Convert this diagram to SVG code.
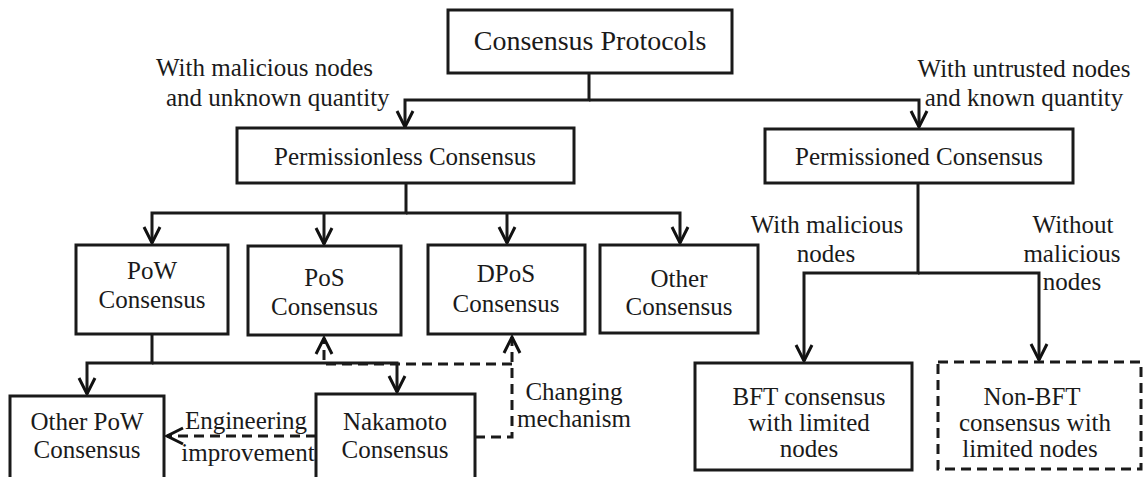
<svg xmlns="http://www.w3.org/2000/svg" width="1143" height="477" viewBox="0 0 1143 477">
<defs>
<marker id="arr" viewBox="-18 -10 20 20" refX="0" refY="0" markerWidth="20" markerHeight="20" markerUnits="userSpaceOnUse" orient="auto" overflow="visible">
<path d="M -16 -8 L 0 0 L -16 8" fill="none" stroke="#111" stroke-width="3" stroke-linejoin="miter"/>
</marker>
</defs>
<style>
text{font-family:"Liberation Serif","Times New Roman",serif;font-size:25px;fill:#1a1a1a;}
.c{text-anchor:middle;}
.box{fill:#fff;stroke:#1a1a1a;stroke-width:3;}
.dbox{fill:#fff;stroke:#1a1a1a;stroke-width:3;stroke-dasharray:10 6;}
.ln{fill:none;stroke:#1a1a1a;stroke-width:3;}
.dl{fill:none;stroke:#1a1a1a;stroke-width:3;stroke-dasharray:10 6;}
</style>
<rect width="1143" height="477" fill="#fff"/>
<g id="connectors">
<path class="ln" d="M589 73 V100 H405 V127" marker-end="url(#arr)"/>
<path class="ln" d="M589 100 H919 V127" marker-end="url(#arr)"/>
<path class="ln" d="M406 183 V213 H152 V243" marker-end="url(#arr)"/>
<path class="ln" d="M406 213 H680 V243" marker-end="url(#arr)"/>
<path class="ln" d="M324 213 V244" marker-end="url(#arr)"/>
<path class="ln" d="M507 213 V243" marker-end="url(#arr)"/>
<path class="ln" d="M152 334 V363 H87 V394" marker-end="url(#arr)"/>
<path class="ln" d="M152 363 H397 V392" marker-end="url(#arr)"/>
<path class="ln" d="M918 183 V273 H804 V361" marker-end="url(#arr)"/>
<path class="ln" d="M918 273 H1039 V360" marker-end="url(#arr)"/>
<path class="dl" d="M316 436 H167" marker-end="url(#arr)"/>
<path class="dl" d="M475 437 H512 V337" marker-end="url(#arr)"/>
<path class="dl" d="M512 364 H324 V338" marker-end="url(#arr)"/>
</g>
<g id="labels">
<text x="156" y="76">With malicious nodes</text>
<text x="166" y="106">and unknown quantity</text>
<text class="c" x="1024" y="77">With untrusted nodes</text>
<text class="c" x="1024" y="106">and known quantity</text>
<text class="c" x="827" y="233">With malicious</text>
<text class="c" x="826" y="262">nodes</text>
<text class="c" x="1073" y="233">Without</text>
<text class="c" x="1072" y="262">malicious</text>
<text class="c" x="1072" y="290">nodes</text>
<text class="c" x="246" y="429">Engineering</text>
<text class="c" x="248" y="461">improvement</text>
<text class="c" x="574" y="400">Changing</text>
<text class="c" x="574" y="427">mechanism</text>
</g>
<g id="protocols">
<rect class="box" x="448" y="10" width="284" height="63"/>
<text class="c" x="590" y="50" style="font-size:28px">Consensus Protocols</text>
</g>
<g id="permissionless">
<rect class="box" x="237" y="128" width="337" height="55"/>
<text class="c" x="405" y="165">Permissionless Consensus</text>
</g>
<g id="permissioned">
<rect class="box" x="765" y="129" width="308" height="54"/>
<text class="c" x="919" y="165">Permissioned Consensus</text>
</g>
<g id="pow">
<rect class="box" x="76" y="245" width="152" height="89"/>
<text class="c" x="152" y="279">PoW</text>
<text class="c" x="152" y="308">Consensus</text>
</g>
<g id="pos">
<rect class="box" x="248" y="246" width="153" height="89"/>
<text class="c" x="324.5" y="286">PoS</text>
<text class="c" x="324.5" y="315">Consensus</text>
</g>
<g id="dpos">
<rect class="box" x="428" y="245" width="157" height="89"/>
<text class="c" x="506" y="282">DPoS</text>
<text class="c" x="506" y="312">Consensus</text>
</g>
<g id="other">
<rect class="box" x="600" y="245" width="158" height="88"/>
<text class="c" x="679" y="287">Other</text>
<text class="c" x="679" y="315">Consensus</text>
</g>
<g id="otherpow">
<rect class="box" x="10" y="396" width="154" height="92"/>
<text class="c" x="87" y="430">Other PoW</text>
<text class="c" x="87" y="458">Consensus</text>
</g>
<g id="nakamoto">
<rect class="box" x="316" y="394" width="159" height="94"/>
<text class="c" x="395" y="430">Nakamoto</text>
<text class="c" x="395" y="458">Consensus</text>
</g>
<g id="bft">
<rect class="box" x="695" y="363" width="217" height="107"/>
<text class="c" x="809" y="405">BFT consensus</text>
<text class="c" x="809" y="431">with limited</text>
<text class="c" x="809" y="457">nodes</text>
</g>
<g id="nonbft">
<rect class="dbox" x="938" y="362" width="203" height="107"/>
<text class="c" x="1032" y="405">Non-BFT</text>
<text class="c" x="1035" y="431">consensus with</text>
<text class="c" x="1030" y="457">limited nodes</text>
</g>
</svg>
